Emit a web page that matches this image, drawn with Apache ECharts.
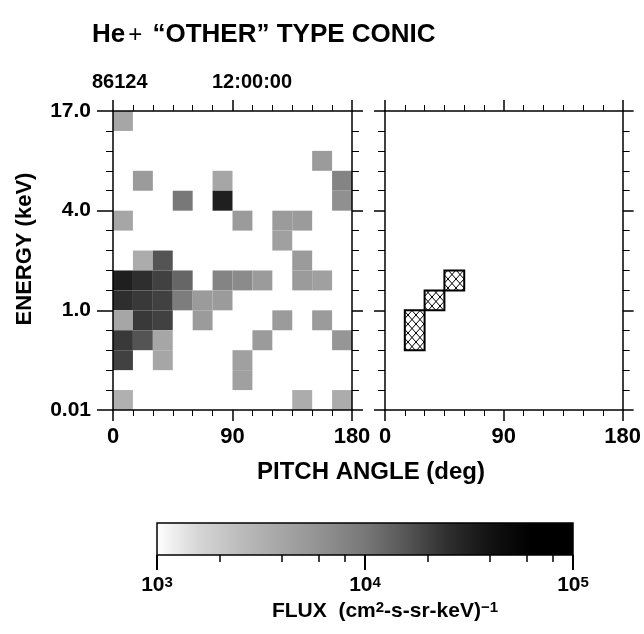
<!DOCTYPE html>
<html><head><meta charset="utf-8">
<script src="https://cdn.jsdelivr.net/npm/echarts@6/dist/echarts.min.js"></script>
<style>html,body{margin:0;padding:0;background:#fff}#c{width:644px;height:634px}</style>
</head><body><div id="c"></div>
<script>
// ---------------- data ----------------
const pitchTicks = [0, 90, 180];
const pitchBinWidth = 15;
const energyTickPos = [0, 5, 10, 15];
const energyTickLabels = ['0.01', '1.0', '4.0', '17.0'];
const fluxMajorTicks = [1e3, 1e4, 1e5];
const fluxMinorTicks = [2e3, 4e3, 6e3, 8e3, 2e4, 4e4, 6e4, 8e4];
const fluxRange = [1e3, 1e5];
// left panel cells: [pitch bin start (deg), energy channel (0 = lowest), flux]
const leftCells = [
  [0,14,4000],
  [150,12,5000],
  [15,11,5000],[75,11,4000],[165,11,8000],
  [45,10,10000],[75,10,32000],[165,10,6300],
  [0,9,4000],[90,9,5000],[120,9,5000],[135,9,5000],
  [120,8,4500],
  [15,7,3500],[30,7,16000],[135,7,5000],
  [0,6,32000],[15,6,25000],[30,6,20000],[45,6,12600],[75,6,8000],[90,6,7000],[105,6,5000],[135,6,5000],[150,6,4500],
  [0,5,25000],[15,5,22000],[30,5,20000],[45,5,9000],[60,5,5000],[75,5,5000],
  [0,4,4000],[15,4,22000],[30,4,20000],[60,4,5000],[120,4,5000],[150,4,5000],
  [0,3,22000],[15,3,16000],[30,3,4000],[105,3,5000],[165,3,5600],
  [0,2,20000],[30,2,4000],[90,2,4500],
  [90,1,4500],
  [0,0,3200],[135,0,3500],[165,0,3500]
];
// right panel hatched cells: [pitch bin start, channel low, channel high]
const rightCells = [[15,3,5],[30,5,6],[45,6,7]];

// ---------------- styles ----------------
const FONT = '"Liberation Sans", Arial, Helvetica, sans-serif';
const grayScale = ['#ffffff','#d6d6d6','#bcbcbc','#a6a6a6','#909090','#787878','#555555','#2e2e2e','#121212','#000000','#000000'];

function hatchCanvas(){
  const w = 8, h = 9;
  const cv = document.createElement('canvas'); cv.width = w; cv.height = h;
  const g = cv.getContext('2d');
  g.fillStyle = '#fff'; g.fillRect(0,0,w,h);
  g.strokeStyle = '#000'; g.lineWidth = 1;
  g.beginPath();
  g.moveTo(-w,2*h); g.lineTo(2*w,-h);
  g.moveTo(-w,-h); g.lineTo(2*w,2*h);
  g.stroke();
  return cv;
}
const hatch = {image: hatchCanvas(), repeat: 'repeat'};

const chart = echarts.init(document.getElementById('c'));

const lineStyle = {color:'#000', width:1.5};
function xAx(grid, pos, labels){
  return {
    type:'value', gridIndex:grid, position:pos, min:pitchTicks[0], max:pitchTicks[pitchTicks.length-1],
    interval:90, z:10,
    axisLine:{show:true, onZero:false, lineStyle},
    axisTick:{show:true, length:11, lineStyle:{color:'#000', width:1.5}},
    minorTick:{show:true, splitNumber:6, length:6, lineStyle:{color:'#000', width:1}},
    splitLine:{show:false}, minorSplitLine:{show:false},
    axisLabel:{show:labels, margin:16, color:'#000', fontFamily:FONT, fontWeight:'bold', fontSize:22}
  };
}
function yAx(grid, pos, labels){
  return {
    type:'value', gridIndex:grid, position:pos, min:energyTickPos[0], max:energyTickPos[energyTickPos.length-1],
    interval:5, z:10,
    axisLine:{show:true, onZero:false, lineStyle},
    axisTick:{show:true, length: labels ? 16 : 11, lineStyle:{color:'#000', width:1.5}},
    minorTick:{show:true, splitNumber:5, length:7, lineStyle:{color:'#000', width:1}},
    splitLine:{show:false}, minorSplitLine:{show:false},
    axisLabel:{show:labels, margin:22, color:'#000', fontFamily:FONT, fontWeight:'bold', fontSize:21,
      formatter: v => energyTickLabels[energyTickPos.indexOf(v)] || ''}
  };
}

function cellRender(params, api){
  const x0 = api.value(0), y0 = api.value(1);
  const p0 = api.coord([x0, y0]);
  const p1 = api.coord([x0 + pitchBinWidth, y0 + 1]);
  return {type:'rect', shape:{x:p0[0], y:p1[1], width:p1[0]-p0[0], height:p0[1]-p1[1]},
    style:{fill: api.visual('color')}};
}
function hatchRender(params, api){
  const x0 = api.value(0), ylo = api.value(1), yhi = api.value(2);
  const p0 = api.coord([x0, ylo]);
  const p1 = api.coord([x0 + pitchBinWidth, yhi]);
  return {type:'rect', shape:{x:p0[0], y:p1[1], width:p1[0]-p0[0], height:p0[1]-p1[1]},
    style:{fill: hatch, stroke:'#000', lineWidth:2}};
}
function barRender(params, api){
  const p0 = api.coord([api.value(0), 0]);
  const p1 = api.coord([api.value(1), 1]);
  const stops = grayScale.map((c,i) => ({offset: i/(grayScale.length-1), color:c}));
  return {type:'rect', shape:{x:p0[0], y:p1[1], width:p1[0]-p0[0], height:p0[1]-p1[1]},
    style:{fill: new echarts.graphic.LinearGradient(0,0,1,0,stops), stroke:'#000', lineWidth:1.5}};
}

const supRich = {
  b:{fontFamily:FONT, fontWeight:'bold', fontSize:21, color:'#000'},
  s:{fontFamily:FONT, fontWeight:'bold', fontSize:15, color:'#000', verticalAlign:'top'}
};

chart.setOption({
  animation:false,
  backgroundColor:'#fff',
  grid:[
    {left:113, top:111, width:239, height:299},
    {left:385, top:111, width:240, height:299},
    {left:157, top:523, width:416, height:32}
  ],
  xAxis:[
    xAx(0,'bottom',true), xAx(0,'top',false), xAx(1,'bottom',true), xAx(1,'top',false),
    {type:'log', gridIndex:2, position:'bottom', min:fluxRange[0], max:fluxRange[1], z:10,
      axisLine:{show:false}, splitLine:{show:false}, minorTick:{show:false},
      axisTick:{show:true, length:15, customValues:fluxMajorTicks, lineStyle:{color:'#000', width:2}},
      axisLabel:{show:true, margin:20, customValues:fluxMajorTicks,
        formatter: v => '{b|10}{s|' + Math.round(Math.log10(v)) + '}', rich:supRich}},
    {type:'log', gridIndex:2, position:'bottom', min:fluxRange[0], max:fluxRange[1], z:10,
      axisLine:{show:false}, splitLine:{show:false}, minorTick:{show:false}, axisLabel:{show:false},
      axisTick:{show:true, length:7, customValues:fluxMinorTicks, lineStyle:{color:'#000', width:1.5}}}
  ],
  yAxis:[
    yAx(0,'left',true), yAx(0,'right',false), yAx(1,'left',false), yAx(1,'right',false),
    {type:'value', gridIndex:2, min:0, max:1, show:false}
  ],
  visualMap:{show:false, type:'continuous', seriesIndex:0, dimension:3,
    min:Math.log10(fluxRange[0]), max:Math.log10(fluxRange[1]), inRange:{color:grayScale}},
  series:[
    {type:'custom', xAxisIndex:0, yAxisIndex:0, renderItem:cellRender, encode:{x:0, y:1},
      data:leftCells.map(c => [c[0], c[1], c[2], Math.log10(c[2])])},
    {type:'custom', xAxisIndex:2, yAxisIndex:2, renderItem:hatchRender, encode:{x:0, y:[1,2]},
      data:rightCells},
    {type:'custom', xAxisIndex:4, yAxisIndex:4, renderItem:barRender, encode:{x:[0,1]},
      data:[fluxRange]}
  ],
  graphic:[
    {type:'text', left:92, top:22, style:{text:'{t|He}{p|+}{t| “OTHER” TYPE CONIC}', rich:{
      t:{fontFamily:FONT, fontWeight:'bold', fontSize:26, fill:'#000'},
      p:{fontFamily:FONT, fontWeight:'normal', fontSize:24, fill:'#000', padding:[0,3,0,3]}}}},
    {type:'text', left:92, top:72, style:{text:'86124', fontFamily:FONT, fontWeight:'bold', fontSize:20, fill:'#000'}},
    {type:'text', left:212, top:72, style:{text:'12:00:00', fontFamily:FONT, fontWeight:'bold', fontSize:20, fill:'#000'}},
    {type:'text', x:25, y:249, rotation:Math.PI/2, style:{text:'ENERGY (keV)', fontFamily:FONT, fontWeight:'bold', fontSize:22, fill:'#000', align:'center', verticalAlign:'middle'}},
    {type:'text', x:371, y:472, style:{text:'PITCH ANGLE (deg)', fontFamily:FONT, fontWeight:'bold', fontSize:24, fill:'#000', align:'center', verticalAlign:'middle'}},
    {type:'text', x:385, y:611, style:{text:'{b|FLUX  (cm}{s|2}{b|-s-sr-keV)}{s|−1}', align:'center', verticalAlign:'middle', rich:supRich}}
  ]
});
</script></body></html>
